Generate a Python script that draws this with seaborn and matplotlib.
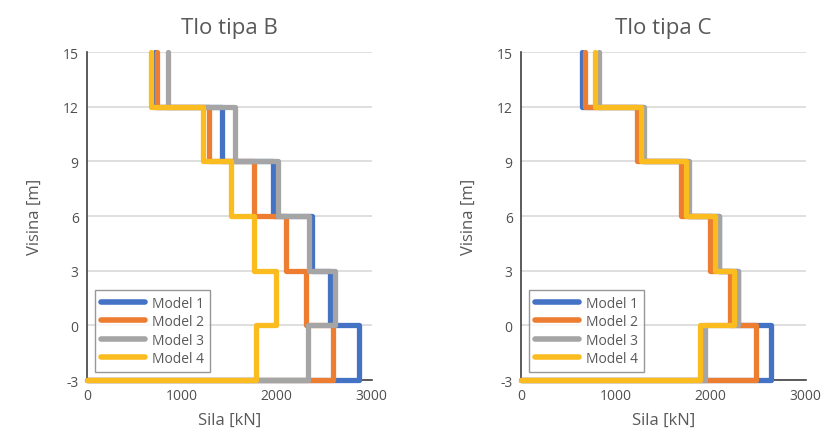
import numpy as np
import pandas as pd
import matplotlib.pyplot as plt
import seaborn as sns

# storey levels (top to bottom) in m
levels = [15, 12, 9, 6, 3, 0, -3]
models = ["Model 1", "Model 2", "Model 3", "Model 4"]

# storey forces in kN, from top storey (12-15) to basement (-3-0)
tlo_b = {
    "Model 1": [720, 1420, 1960, 2370, 2560, 2870],
    "Model 2": [735, 1290, 1760, 2100, 2310, 2590],
    "Model 3": [850, 1560, 2015, 2340, 2610, 2330],
    "Model 4": [670, 1220, 1520, 1760, 1995, 1785],
}
tlo_c = {
    "Model 1": [645, 1290, 1765, 2085, 2285, 2640],
    "Model 2": [675, 1225, 1685, 1990, 2205, 2480],
    "Model 3": [825, 1300, 1775, 2090, 2290, 1940],
    "Model 4": [785, 1265, 1735, 2040, 2245, 1890],
}

colors = ["#4472C4", "#ED7D31", "#A5A5A5", "#FBBC1F"]


def step_frame(forces):
    rows = []
    for m in models:
        i = 0
        for f, top, bot in zip(forces[m], levels[:-1], levels[1:]):
            rows.append((m, i, f, top)); i += 1
            rows.append((m, i, f, bot)); i += 1
        rows.append((m, i, 0, levels[-1]))
    return pd.DataFrame(rows, columns=["model", "order", "Sila", "Visina"])


sns.set_style("white")
plt.rcParams["font.family"] = ["Open Sans", "DejaVu Sans"]
plt.rcParams["axes.unicode_minus"] = False

fig = plt.figure(figsize=(8.25, 4.39), dpi=100)
ax1 = fig.add_axes([0.1055, 0.132, 0.345, 0.747])
ax2 = fig.add_axes([0.6315, 0.132, 0.345, 0.747])

for ax, data, title in [(ax1, tlo_b, "Tlo tipa B"), (ax2, tlo_c, "Tlo tipa C")]:
    df = step_frame(data)
    sns.lineplot(data=df, x="Sila", y="Visina", hue="model", units="model",
                 estimator=None, sort=False, palette=colors, linewidth=3.8,
                 ax=ax, clip_on=False, zorder=3)
    ax.set_xlim(0, 3000)
    ax.set_ylim(-3, 15)
    ax.set_xticks([0, 1000, 2000, 3000])
    ax.set_yticks(levels[::-1])
    ax.yaxis.grid(True, color="#D9D9D9", linewidth=1.2)
    ax.set_axisbelow(True)
    for s in ["top", "right"]:
        ax.spines[s].set_visible(False)
    ax.spines["left"].set_color("#404040")
    ax.spines["bottom"].set_color("#404040")
    ax.spines["left"].set_linewidth(1.2)
    ax.spines["bottom"].set_linewidth(1.2)
    ax.tick_params(length=0, labelsize=10, labelcolor="#505050", pad=6)
    ax.set_title(title, fontsize=16, color="#595959", pad=14)
    ax.set_xlabel("Sila [kN]", fontsize=12, color="#595959", labelpad=6)
    ax.set_ylabel("Visina [m]", fontsize=12, color="#595959", labelpad=14)
    leg = ax.legend(loc="lower left", fontsize=10, frameon=True, fancybox=False,
                    handlelength=3.2, borderaxespad=0.6, labelspacing=0.25,
                    borderpad=0.4, handletextpad=0.5)
    leg.get_frame().set_edgecolor("#7F7F7F")
    leg.get_frame().set_linewidth(1.0)
    for line in leg.get_lines():
        line.set_linewidth(4)
    for t in leg.get_texts():
        t.set_color("#595959")

fig.savefig("out.png", dpi=100)
